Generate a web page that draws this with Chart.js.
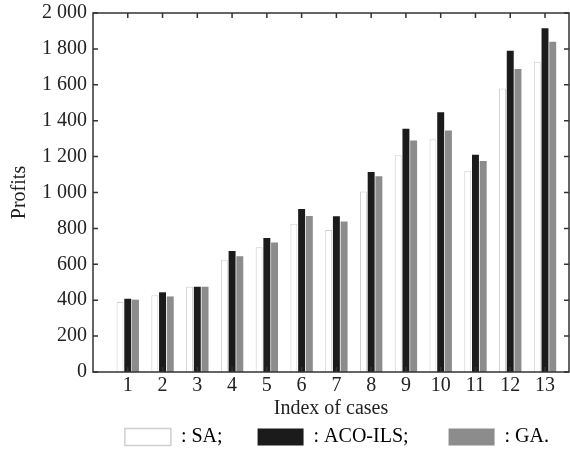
<!DOCTYPE html>
<html>
<head>
<meta charset="utf-8">
<script src="https://cdn.jsdelivr.net/npm/chart.js@4/dist/chart.umd.min.js"></script>
<style>
  html, body { margin: 0; padding: 0; background: #fff; }
  #wrap { width: 570px; height: 451px; }
</style>
</head>
<body>
<div id="wrap"><canvas id="chart"></canvas></div>
<script>
const cases = [1, 2, 3, 4, 5, 6, 7, 8, 9, 10, 11, 12, 13];
const saProfits = [390, 427, 475, 626, 695, 826, 791, 1006, 1207, 1296, 1121, 1580, 1729];
const acoIlsProfits = [408, 444, 475, 674, 747, 908, 867, 1114, 1355, 1447, 1211, 1790, 1915];
const gaProfits = [403, 421, 475, 645, 722, 869, 839, 1090, 1290, 1346, 1175, 1688, 1840];
const yTicks = [0, 200, 400, 600, 800, 1000, 1200, 1400, 1600, 1800, 2000];

const serif = "'Liberation Serif', 'Times New Roman', serif";
const axisColor = "#333";

function toPoints(values) {
  return values.map((v, i) => ({ x: cases[i], y: v }));
}

function fmt(v) {
  // thousands separated by a space, like "1 800"
  return v >= 1000 ? Math.floor(v / 1000) + " " + String(v % 1000).padStart(3, "0") : String(v);
}

// frame round the plot plus short inward ticks on all four sides
const frameTicks = {
  id: "frameTicks",
  afterDatasetsDraw(chart) {
    const { ctx, chartArea: a, scales } = chart;
    const len = 5;
    ctx.save();
    ctx.strokeStyle = axisColor;
    ctx.lineWidth = 1.5;
    ctx.beginPath();
    scales.y.ticks.forEach((t) => {
      const y = scales.y.getPixelForValue(t.value);
      ctx.moveTo(a.left, y);
      ctx.lineTo(a.left + len, y);
      ctx.moveTo(a.right, y);
      ctx.lineTo(a.right - len, y);
    });
    scales.x.ticks.forEach((t) => {
      const x = scales.x.getPixelForValue(t.value);
      ctx.moveTo(x, a.top);
      ctx.lineTo(x, a.top + len);
      ctx.moveTo(x, a.bottom);
      ctx.lineTo(x, a.bottom - len);
    });
    ctx.stroke();
    ctx.strokeRect(a.left, a.top, a.right - a.left, a.bottom - a.top);
    ctx.restore();
  },
};

new Chart(document.getElementById("chart"), {
  type: "bar",
  data: {
    datasets: [
      {
        label: ": SA;",
        data: toPoints(saProfits),
        backgroundColor: "#ffffff",
        borderColor: "#cfcfcf",
        borderWidth: 1,
      },
      {
        label: ": ACO-ILS;",
        data: toPoints(acoIlsProfits),
        backgroundColor: "#1b1b1b",
        borderColor: "#1b1b1b",
        borderWidth: 0,
      },
      {
        label: ": GA.",
        data: toPoints(gaProfits),
        backgroundColor: "#8c8c8c",
        borderColor: "#8c8c8c",
        borderWidth: 0,
      },
    ],
  },
  options: {
    responsive: true,
    maintainAspectRatio: false,
    animation: false,
    categoryPercentage: 0.666,
    barPercentage: 0.9,
    layout: { padding: { top: 13, right: 1, left: 0, bottom: -6 } },
    plugins: {
      tooltip: { enabled: false },
      legend: {
        position: "bottom",
        fullSize: false,
        align: "end",
        labels: {
          color: "#222",
          font: { family: serif, size: 20 },
          boxWidth: 46,
          boxHeight: 17,
          padding: 0,
          generateLabels(chart) {
            const tails = ["       ", "        ", "    "];
            return chart.data.datasets.map((ds, i) => ({
              text: ds.label + tails[i],
              fillStyle: ds.backgroundColor,
              strokeStyle: i === 0 ? "#cfcfcf" : ds.backgroundColor,
              lineWidth: i === 0 ? 1.5 : 0,
              datasetIndex: i,
            }));
          },
        },
      },
    },
    scales: {
      x: {
        type: "linear",
        offset: false,
        min: 0,
        max: 13.69,
        afterBuildTicks(scale) {
          scale.ticks = cases.map((c) => ({ value: c }));
        },
        afterFit(scale) {
          scale.height = 55;
        },
        grid: { display: false, drawTicks: false },
        border: { display: false },
        ticks: {
          color: "#222",
          padding: 2,
          font: { family: serif, size: 20 },
          callback: (v) => String(v),
        },
        title: {
          display: true,
          text: "Index of cases",
          color: "#222",
          font: { family: serif, size: 20 },
          padding: { top: 0, bottom: 6 },
        },
      },
      y: {
        min: 0,
        max: 2000,
        afterBuildTicks(scale) {
          scale.ticks = yTicks.map((v) => ({ value: v }));
        },
        afterFit(scale) {
          scale.width = 93;
          // labels may overhang the frame, keep the plot where it is
          scale.paddingTop = 0;
          scale.paddingBottom = 0;
        },
        grid: { display: false, drawTicks: false },
        border: { display: false },
        ticks: {
          color: "#222",
          padding: 6,
          font: { family: serif, size: 20 },
          callback: (v) => fmt(v),
        },
        title: {
          display: true,
          text: "Profits",
          color: "#222",
          font: { family: serif, size: 20 },
          padding: { top: 8, bottom: 0 },
        },
      },
    },
  },
  plugins: [frameTicks],
});
</script>
</body>
</html>
